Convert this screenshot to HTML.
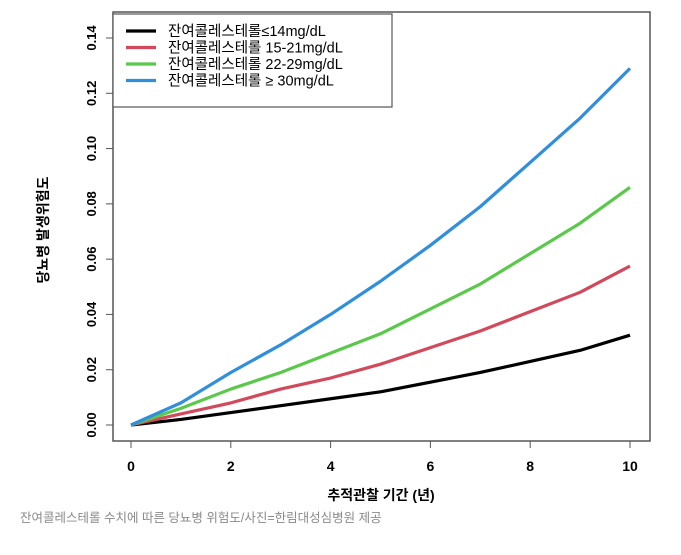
<!DOCTYPE html>
<html><head><meta charset="utf-8"><style>
body{margin:0;background:#fff;}
svg text{font-family:"Liberation Sans","Noto Sans CJK KR",sans-serif;}
</style></head><body>
<svg width="681" height="550" viewBox="0 0 681 550">
<g id="plot"></g>
<text x="20" y="522" font-size="12.5" fill="#8a8a8a">잔여콜레스테롤 수치에 따른 당뇨병 위험도/사진=한림대성심병원 제공</text>
</svg>
<script>
const years=[0,1,2,3,4,5,6,7,8,9,10];
const seriesNames=["잔여콜레스테롤≤14mg/dL","잔여콜레스테롤 15-21mg/dL","잔여콜레스테롤 22-29mg/dL","잔여콜레스테롤 ≥ 30mg/dL"];
const black=[0,0.002,0.0045,0.007,0.0095,0.012,0.0155,0.019,0.023,0.027,0.0325];
const red=[0,0.004,0.008,0.013,0.017,0.022,0.028,0.034,0.041,0.048,0.0575];
const green=[0,0.006,0.013,0.019,0.026,0.033,0.042,0.051,0.062,0.073,0.086];
const blue=[0,0.008,0.019,0.029,0.040,0.052,0.065,0.079,0.095,0.111,0.129];
const yTicks=["0.00","0.02","0.04","0.06","0.08","0.10","0.12","0.14"];
const xTicks=[0,2,4,6,8,10];
const colors=["#000000","#d1495b","#5ac94a","#2f8fdc"];
const NS="http://www.w3.org/2000/svg";
const g=document.getElementById('plot');
function X(v){return 131+v*49.9;}
function Y(v){return 425-v*(387/0.14);}
function mk(t,a,p){const e=document.createElementNS(NS,t);for(const k in a)e.setAttribute(k,a[k]);(p||g).appendChild(e);return e;}
const box=mk('rect',{x:113,y:12,width:537,height:429,fill:'none',stroke:'#555','stroke-width':1.5});


yTicks.forEach(t=>{const v=parseFloat(t),y=Y(v);
 mk('line',{x1:106,x2:113,y1:y,y2:y,stroke:'#555'});
 const tx=mk('text',{x:0,y:0,'font-size':13,'font-weight':'bold','text-anchor':'middle',transform:`translate(96,${y}) rotate(-90)`});
 tx.textContent=t;
 
 
});
xTicks.forEach(v=>{const x=X(v);
 mk('line',{x1:x,x2:x,y1:441,y2:448,stroke:'#555'});
 const tx=mk('text',{x:x,y:471,'font-size':14,'font-weight':'bold','text-anchor':'middle'});
 tx.textContent=v;
 
 
});
const series=[black,red,green,blue];
series.forEach((s,i)=>{
 const p=mk('polyline',{points:s.map((v,j)=>X(years[j])+','+Y(v)).join(' '),fill:'none',stroke:colors[i],'stroke-width':3.2,'stroke-linejoin':'round'});
 
 
});
const lb=mk('rect',{x:113,y:14,width:279,height:93,fill:'#fff',stroke:'#555','stroke-width':1.2});


seriesNames.forEach((n,i)=>{const y=31+i*16.5;
 mk('line',{x1:126,x2:156,y1:y,y2:y,stroke:colors[i],'stroke-width':3.2});
 const t=mk('text',{x:168,y:y+5,'font-size':14.5});
 t.textContent=n;
 
 
});
const yt=mk('text',{x:0,y:0,'font-size':14,'font-weight':'bold','text-anchor':'middle',transform:'translate(48,230) rotate(-90)'});
yt.textContent='당뇨병 발생위험도';


const xt=mk('text',{x:381,y:500,'font-size':14,'font-weight':'bold','text-anchor':'middle'});
xt.textContent='추적관찰 기간 (년)';


</script>
</body></html>
